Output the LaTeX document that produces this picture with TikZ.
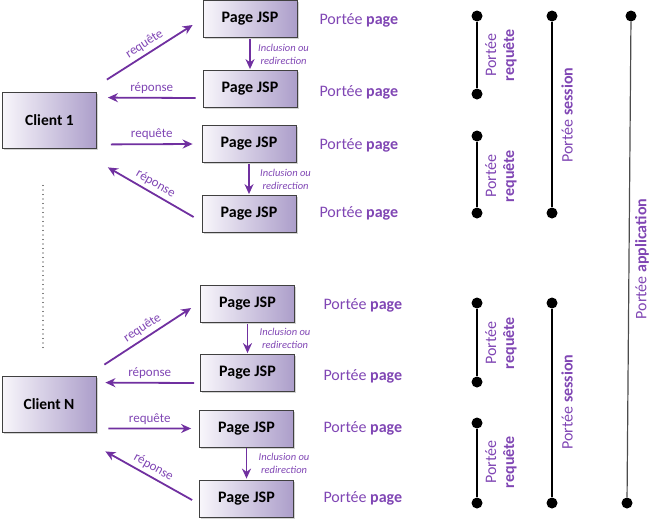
\documentclass[tikz,border=0pt]{standalone}
\usepackage{fontspec}
\setmainfont{Carlito}
\usetikzlibrary{arrows.meta,shadows}
\definecolor{jsppurple}{RGB}{112,48,160}
\definecolor{txtpurple}{RGB}{128,70,180}
\definecolor{boxleft}{RGB}{248,246,251}
\definecolor{boxright}{RGB}{172,158,202}
\begin{document}
\begin{tikzpicture}[x=1pt, y=-1pt, >={Stealth[length=10pt,width=9pt]},
	jsp/.style={draw=black!75, line width=0.8pt, minimum width=94pt, minimum height=37pt,
		left color=boxleft, right color=boxright, font=\fontsize{16}{18}\selectfont\bfseries,
		drop shadow={shadow xshift=1.5pt, shadow yshift=-1.5pt, opacity=0.35}},
	client/.style={jsp, minimum height=56pt, font=\fontsize{15.5}{18}\selectfont\bfseries},
	flow/.style={->, jsppurple, line width=1.8pt},
	msg/.style={text=txtpurple, font=\fontsize{13}{15}\selectfont},
	incl/.style={text=txtpurple, font=\fontsize{10.5}{13}\selectfont\itshape, align=center},
	portee/.style={text=txtpurple, font=\fontsize{16}{18}\selectfont},
	dot/.style={circle, fill=black, inner sep=0pt, minimum size=11pt},
	scopeline/.style={line width=1.5pt}]
	
	\useasboundingbox (0,0) rectangle (655,520);
	
	% --- 1. Clients ---
	\node[client] (c1) at (49.5,120) {Client 1};
	\node[client] (cN) at (49,404) {Client N};
	\draw[line width=1.3pt, line cap=round, dash pattern=on 0pt off 4.5pt, shorten <=37pt, shorten >=24pt]
	([xshift=-6.5pt]c1.south) -- ([xshift=-6pt]cN.north);
	
	% --- 2. Pages JSP ---
	\node[jsp] (p1) at (250,19) {Page JSP};
	\node[jsp] (p2) at (250,89) {Page JSP};
	\node[jsp] (p3) at (249,144) {Page JSP};
	\node[jsp] (p4) at (249,214) {Page JSP};
	\node[jsp] (p5) at (247.5,304) {Page JSP};
	\node[jsp] (p6) at (247.5,373) {Page JSP};
	\node[jsp] (p7) at (246.5,428.5) {Page JSP};
	\node[jsp] (p8) at (246.5,498.5) {Page JSP};
	
	% --- 3. Requetes / reponses (client 1) ---
	\draw[flow] ([xshift=10pt, yshift=12pt]c1.north east) -- ([xshift=-10pt, yshift=-6pt]p1.west)
	node[midway, above, sloped, msg] {requête};
	\draw[flow] ([xshift=-7pt, yshift=-9pt]p2.west) -- ([xshift=11pt, yshift=-6pt]c1.north east)
	node[midway, above, msg] {réponse};
	\draw[flow] ([xshift=14pt, yshift=4pt]c1.south east) -- ([xshift=-9pt]p3.west)
	node[midway, above, msg] {requête};
	\draw[flow, <-] ([xshift=11pt, yshift=-19pt]c1.south east) -- ([xshift=-8pt, yshift=-3pt]p4.west)
	node[midway, above, sloped, msg] {réponse};
	
	% --- 4. Requetes / reponses (client N) ---
	\draw[flow] ([xshift=8pt, yshift=11pt]cN.north east) -- ([xshift=-9pt, yshift=-4pt]p5.west)
	node[midway, above, sloped, msg] {requête};
	\draw[flow] ([xshift=-6pt, yshift=-10pt]p6.west) -- ([xshift=9pt, yshift=-7pt]cN.north east)
	node[midway, above, msg] {réponse};
	\draw[flow] ([xshift=12pt, yshift=4pt]cN.south east) -- ([xshift=-8pt]p7.west)
	node[midway, above, msg] {requête};
	\draw[flow, <-] ([xshift=9pt, yshift=-19pt]cN.south east) -- ([xshift=-7pt, yshift=-1.5pt]p8.west)
	node[midway, above, sloped, msg] {réponse};
	
	% --- 5. Inclusion ou redirection ---
	\draw[flow, shorten <=1pt, shorten >=1pt] (p1) -- (p2)
	node[midway, right, xshift=4pt, incl] {Inclusion ou\\redirection};
	\draw[flow, shorten <=1pt, shorten >=1pt] (p3) -- (p4)
	node[midway, right, xshift=7pt, incl] {Inclusion ou\\redirection};
	\draw[flow, shorten <=1pt, shorten >=1pt] (p5) -- (p6)
	node[midway, right, xshift=8pt, incl] {Inclusion ou\\redirection};
	\draw[flow, shorten <=1pt, shorten >=1pt] (p7) -- (p8)
	node[midway, right, xshift=8pt, incl] {Inclusion ou\\redirection};
	
	% --- 6. Portee page ---
	\node[portee, anchor=base west] (pp1) at (316,24) {Portée \textbf{page}};
	\node[portee, anchor=base west] (pp2) at (316,96) {Portée \textbf{page}};
	\node[portee, anchor=base west] (pp3) at (316,149) {Portée \textbf{page}};
	\node[portee, anchor=base west] (pp4) at (316,217) {Portée \textbf{page}};
	\node[portee, anchor=base west] (pp5) at (320,309) {Portée \textbf{page}};
	\node[portee, anchor=base west] (pp6) at (320,380) {Portée \textbf{page}};
	\node[portee, anchor=base west] (pp7) at (320,432) {Portée \textbf{page}};
	\node[portee, anchor=base west] (pp8) at (320,502) {Portée \textbf{page}};
	
	% --- 7. Portee requete ---
	\node[dot] (r1a) at (477,16) {};
	\node[dot] (r1b) at (477,94) {};
	\node[dot] (r2a) at (477,136) {};
	\node[dot] (r2b) at (477,213) {};
	\node[dot] (r3a) at (477,303) {};
	\node[dot] (r3b) at (477,382) {};
	\node[dot] (r4a) at (477,423) {};
	\node[dot] (r4b) at (477,503) {};
	\draw[scopeline] (r1a) -- (r1b);
	\draw[scopeline] (r2a) -- (r2b);
	\draw[scopeline] (r3a) -- (r3b);
	\draw[scopeline] (r4a) -- (r4b);
	\node[portee, rotate=90, align=center] (lr1) at (501,55) {Portée\\\textbf{requête}};
	\node[portee, rotate=90, align=center] (lr2) at (501,176) {Portée\\\textbf{requête}};
	\node[portee, rotate=90, align=center] (lr3) at (501,343) {Portée\\\textbf{requête}};
	\node[portee, rotate=90, align=center] (lr4) at (501,462) {Portée\\\textbf{requête}};
	
	% --- 8. Portee session ---
	\node[dot] (s1a) at (552,16) {};
	\node[dot] (s1b) at (552,213) {};
	\node[dot] (s2a) at (552,303) {};
	\node[dot] (s2b) at (552,503) {};
	\draw[scopeline] (s1a) -- (s1b);
	\draw[scopeline] (s2a) -- (s2b);
	\node[portee, rotate=90] (ls1) at (567,115) {Portée \textbf{session}};
	\node[portee, rotate=90] (ls2) at (567,402) {Portée \textbf{session}};
	
	% --- 9. Portee application ---
	\node[dot] (a1) at (631,16) {};
	\node[dot] (a2) at (627,503) {};
	\draw[line width=1.2pt, gray!60!black] (a1) -- (a2);
	\node[portee, rotate=90] (la) at (642,259) {Portée \textbf{application}};
	
\end{tikzpicture}
\end{document}
